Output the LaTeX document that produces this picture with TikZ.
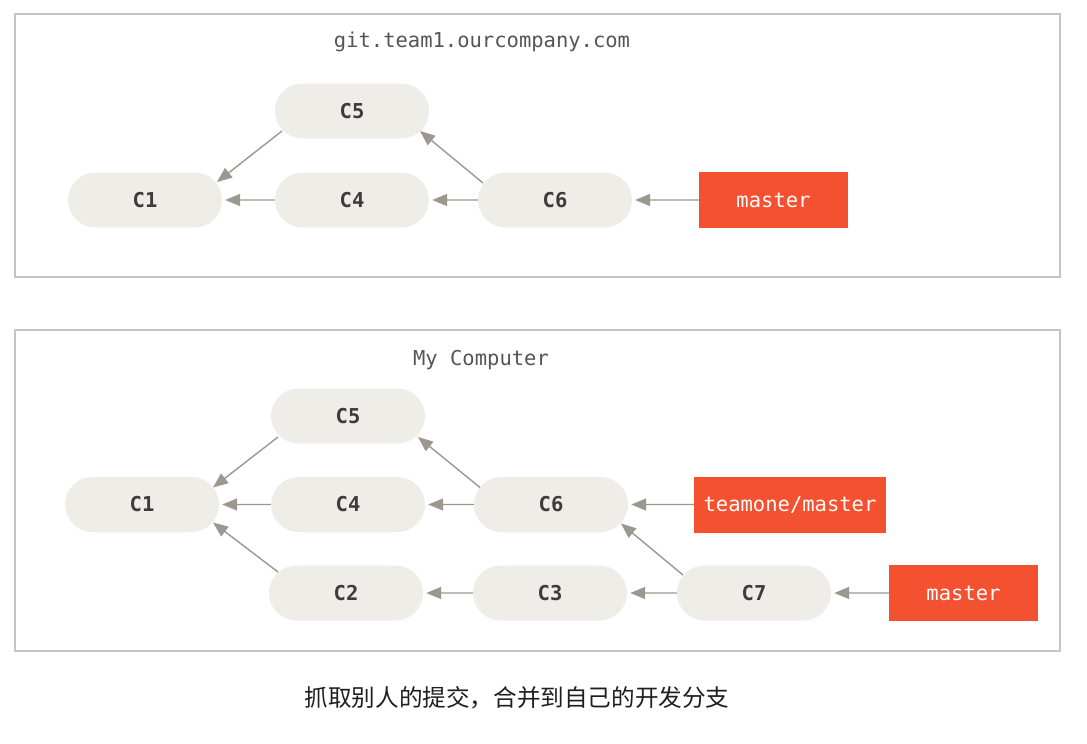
\documentclass[tikz,border=0pt]{standalone}
\usepackage{fontspec}
\setmonofont{DejaVu Sans Mono}
\newfontfamily\cjk{Noto Sans CJK SC}
\usetikzlibrary{arrows.meta,calc,shapes.misc}
\definecolor{commitfill}{HTML}{EEEDE7}
\definecolor{gitred}{HTML}{F35130}
\definecolor{arrowgray}{HTML}{9C978F}
\definecolor{framegray}{HTML}{C4C4C4}
\definecolor{labelgray}{HTML}{3C3C3C}
\definecolor{titlegray}{HTML}{555555}
\begin{document}
\begin{tikzpicture}[x=1pt,y=-1pt,
  commit/.style={rounded rectangle, fill=commitfill, minimum width=154pt, minimum height=55pt, inner sep=0pt, font=\ttfamily\bfseries\fontsize{20.5}{24}\selectfont, text=labelgray},
  branch/.style={rectangle, fill=gitred, minimum height=56pt, inner sep=0pt, text=white, font=\ttfamily\fontsize{20.5}{24}\selectfont},
  link/.style={draw=arrowgray, line width=1.4pt, -{Triangle[length=15pt,width=12pt]}, shorten >=3pt},
  diag/.style={link, shorten >=0pt},
  frame/.style={draw=framegray, line width=1.3pt},
  title/.style={font=\ttfamily\fontsize{20.5}{24}\selectfont, text=titlegray}]

\useasboundingbox (0,0) rectangle (1087,744);
\fill[white] (0,0) rectangle (1087,744);

% ---------- top frame ----------
\draw[frame] (15,14) rectangle (1060,277);
\node[title] (t1) at (482,42) {git.team1.ourcompany.com};

\node[commit] (a5) at (352,111) {C5};
\node[commit] (a1) at (145,200) {C1};
\node[commit] (a4) at (352,200) {C4};
\node[commit] (a6) at (555,200) {C6};
\node[branch, minimum width=149pt] (am) at (773.5,200) {master};

\draw[link] (a4) -- (a1);
\draw[link] (a6) -- (a4);
\draw[link] (am) -- (a6);
\draw[diag] ($(a5.center)+(-70,20)$) -- ($(a1.center)+(72,-18)$);
\draw[diag] ($(a6.center)+(-72,-17)$) -- ($(a5.center)+(68,20)$);

% ---------- bottom frame ----------
\draw[frame] (15,330) rectangle (1060,651);
\node[title] (t2) at (481,360) {My Computer};

\node[commit] (b5) at (348,416) {C5};
\node[commit] (b1) at (142,504.5) {C1};
\node[commit] (b4) at (348,504.5) {C4};
\node[commit] (b6) at (551,504.5) {C6};
\node[branch, minimum width=192pt] (btm) at (790,504.5) {teamone/master};
\node[commit] (b2) at (346,593) {C2};
\node[commit] (b3) at (550,593) {C3};
\node[commit] (b7) at (754,593) {C7};
\node[branch, minimum width=149pt] (bm) at (963.5,593) {master};

\draw[link] (b4) -- (b1);
\draw[link] (b6) -- (b4);
\draw[link] (btm) -- (b6);
\draw[link] (b3) -- (b2);
\draw[link] (b7) -- (b3);
\draw[link] (bm) -- (b7);
\draw[diag] ($(b5.center)+(-70,21)$) -- ($(b1.center)+(71,-17)$);
\draw[diag] ($(b2.center)+(-68,-21)$) -- ($(b1.center)+(71,18)$);
\draw[diag] ($(b6.center)+(-71,-17)$) -- ($(b5.center)+(70,21)$);
\draw[diag] ($(b7.center)+(-71,-18)$) -- ($(b6.center)+(70,19)$);

% ---------- caption ----------
\node[font=\cjk\fontsize{23.6}{28}\selectfont, text=black!88] (cap) at (517,698) {抓取别人的提交，合并到自己的开发分支};
\end{tikzpicture}
\end{document}
